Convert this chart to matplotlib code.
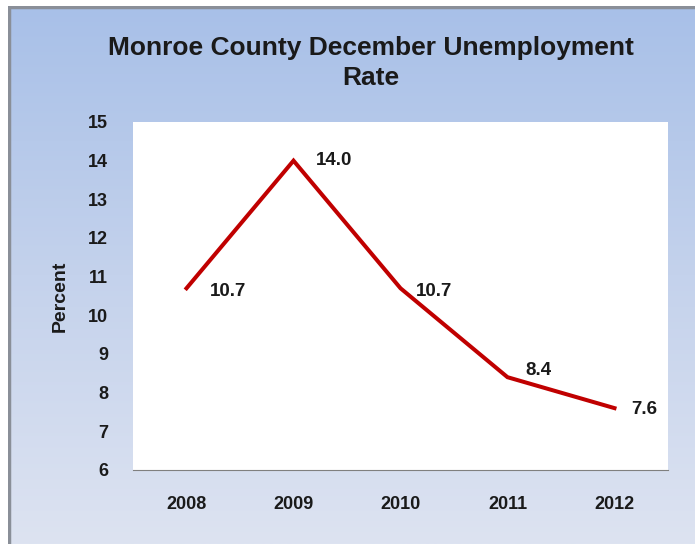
import numpy as np
import matplotlib.pyplot as plt
from matplotlib.colors import LinearSegmentedColormap

years = ['2008', '2009', '2010', '2011', '2012']
rates = [10.7, 14.0, 10.7, 8.4, 7.6]
labels = ['10.7', '14.0', '10.7', '8.4', '7.6']
# label offsets in points (dx, dy) relative to each point
offsets = [(17, -2), (16, 0), (11, -2), (13, 4.5), (12, -1)]

W, H = 695, 544
fig = plt.figure(figsize=(W / 100, H / 100), dpi=100)
fig.patch.set_facecolor('white')

# gradient chart panel
bg = fig.add_axes([8 / W, 0, 1 - 8 / W, 1 - 6 / H])
bg.set_axis_off()
grad = np.linspace(0, 1, 256).reshape(-1, 1)
cmap = LinearSegmentedColormap.from_list('panel', ['#a8c0e8', '#c4d2ec', '#dde3f1'])
bg.imshow(grad, aspect='auto', cmap=cmap, extent=[0, 1, 0, 1], origin='upper')
bg.set_xlim(0, 1)
bg.set_ylim(0, 1)
bg.plot([0.001, 0.001], [0, 1], color='#8a8f98', lw=2.5)
bg.plot([0, 1], [0.998, 0.998], color='#8a8f98', lw=2.5)

ax = fig.add_axes([133 / W, 1 - 470 / H, (668 - 133) / W, (470 - 122) / H])
ax.set_facecolor('white')
x = np.arange(len(years))
ax.plot(x, rates, color='#c00000', lw=2.9, solid_joinstyle='miter')
for xi, yi, lab, (dx, dy) in zip(x, rates, labels, offsets):
    ax.annotate(lab, (xi, yi), xytext=(dx, dy), textcoords='offset points',
                ha='left', va='center', fontsize=13.5, fontweight='bold',
                family='Liberation Sans', color='#1a1a1a')

ax.set_xlim(-0.5, 4.5)
ax.set_ylim(6, 15)
ax.set_yticks(range(6, 16))
ax.set_xticks(x)
ax.set_xticklabels(years)
for s in ax.spines.values():
    s.set_visible(False)
ax.spines['bottom'].set_visible(True)
ax.spines['bottom'].set_color('#7f7f7f')
ax.tick_params(length=0, labelsize=13, colors='#1a1a1a')
ax.tick_params(axis='x', pad=19)
ax.tick_params(axis='y', pad=18)
for t in ax.get_xticklabels() + ax.get_yticklabels():
    t.set_family('Liberation Sans')
    t.set_fontweight('bold')
ax.set_ylabel('Percent', fontsize=14, fontweight='bold', family='Liberation Sans',
              labelpad=14, color='#1a1a1a')

fig.text(371 / W, 1 - 63 / H, 'Monroe County December Unemployment\nRate',
         ha='center', va='center', fontsize=19, fontweight='bold',
         family='Liberation Sans', color='#1a1a1a', linespacing=1.35)

fig.savefig('out.png', dpi=100)
